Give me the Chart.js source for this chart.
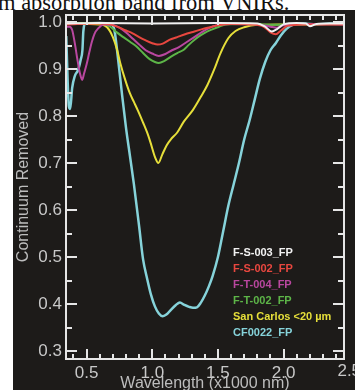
<!DOCTYPE html>
<html>
<head>
<meta charset="utf-8">
<script src="https://cdn.jsdelivr.net/npm/chart.js@4.4.1/dist/chart.umd.min.js"></script>
<style>
  html, body { margin: 0; padding: 0; background: #fff; width: 355px; height: 390px; overflow: hidden; }
  #caption { position: absolute; left: -2px; top: -8px; font: 22.5px/22px "Liberation Serif", serif; color: #111; white-space: nowrap; }
  #panel { position: absolute; left: 13px; top: 10px; width: 342px; height: 380px; background: #1d1b19; }
</style>
</head>
<body>
<div id="caption">m absorption band from VNIRs.</div>
<div id="panel"><canvas id="chart" width="342" height="380"></canvas></div>
<script>
// --- data (wavelength in µm, continuum removed reflectance) ---
const fs003X = [0.345, 0.6, 1.0, 1.5, 1.80, 1.86, 1.91, 1.95, 2.0, 2.1, 2.17, 2.2, 2.25, 2.35, 2.46];
const fs003Y = [0.997, 0.998, 0.997, 0.998, 0.997, 0.99, 0.98, 0.985, 0.995, 0.998, 0.997, 0.991, 0.996, 0.997, 0.997];

const fs002X = [0.345, 0.60, 0.68, 0.75, 0.80, 0.85, 0.90, 0.95, 1.00, 1.04, 1.08, 1.13, 1.19, 1.25, 1.31, 1.38, 1.44, 1.50, 1.60, 1.75, 1.85, 1.90, 1.94, 1.98, 2.03, 2.2, 2.46];
const fs002Y = [0.995, 0.997, 0.995, 0.988, 0.982, 0.976, 0.968, 0.961, 0.955, 0.952, 0.954, 0.962, 0.968, 0.974, 0.979, 0.985, 0.989, 0.993, 0.996, 0.995, 0.99, 0.978, 0.974, 0.982, 0.992, 0.995, 0.995];

const ft004X = [0.345, 0.37, 0.39, 0.41, 0.43, 0.45, 0.466, 0.48, 0.50, 0.52, 0.54, 0.56, 0.59, 0.63, 0.70, 0.75, 0.80, 0.85, 0.90, 0.95, 1.00, 1.05, 1.10, 1.15, 1.20, 1.26, 1.32, 1.38, 1.44, 1.50, 1.60, 1.80, 1.90, 1.95, 2.0, 2.2, 2.46];
const ft004Y = [0.99, 0.99, 0.983, 0.955, 0.92, 0.89, 0.877, 0.89, 0.91, 0.935, 0.958, 0.975, 0.987, 0.995, 0.994, 0.988, 0.978, 0.965, 0.952, 0.94, 0.933, 0.928, 0.932, 0.94, 0.946, 0.957, 0.968, 0.979, 0.988, 0.994, 0.996, 0.995, 0.99, 0.988, 0.993, 0.996, 0.995];

const ft002X = [0.345, 0.55, 0.62, 0.68, 0.73, 0.78, 0.83, 0.88, 0.93, 0.98, 1.02, 1.05, 1.09, 1.14, 1.19, 1.24, 1.28, 1.32, 1.37, 1.42, 1.50, 1.56, 1.7, 2.0, 2.46];
const ft002Y = [0.998, 0.998, 0.997, 0.99, 0.978, 0.968, 0.958, 0.948, 0.934, 0.921, 0.915, 0.913, 0.917, 0.926, 0.934, 0.941, 0.952, 0.962, 0.972, 0.98, 0.989, 0.995, 0.996, 0.994, 0.996];

const sanCarlosX = [0.345, 0.40, 0.50, 0.60, 0.656, 0.70, 0.733, 0.756, 0.794, 0.83, 0.86, 0.89, 0.93, 0.962, 0.985, 1.023, 1.046, 1.076, 1.11, 1.14, 1.19, 1.24, 1.31, 1.37, 1.42, 1.47, 1.52, 1.58, 1.634, 1.70, 1.80, 2.0, 2.46];
const sanCarlosY = [0.996, 0.997, 0.996, 0.995, 0.989, 0.968, 0.94, 0.913, 0.877, 0.848, 0.83, 0.812, 0.786, 0.764, 0.745, 0.711, 0.70, 0.718, 0.738, 0.75, 0.765, 0.788, 0.813, 0.841, 0.866, 0.898, 0.934, 0.966, 0.981, 0.989, 0.994, 0.995, 0.996];

const cf0022X = [0.345, 0.355, 0.365, 0.375, 0.39, 0.41, 0.435, 0.455, 0.468, 0.475, 0.49, 0.60, 0.68, 0.71, 0.74, 0.77, 0.80, 0.83, 0.86, 0.90, 0.93, 0.96, 0.99, 1.02, 1.05, 1.08, 1.11, 1.14, 1.18, 1.21, 1.245, 1.28, 1.31, 1.34, 1.37, 1.40, 1.43, 1.46, 1.50, 1.54, 1.58, 1.62, 1.66, 1.70, 1.74, 1.78, 1.82, 1.86, 1.90, 1.94, 1.98, 2.02, 2.07, 2.15, 2.25, 2.35, 2.46];
const cf0022Y = [0.97, 0.88, 0.82, 0.815, 0.86, 0.885, 0.898, 0.92, 0.94, 0.98, 0.997, 0.998, 0.996, 0.985, 0.92, 0.845, 0.775, 0.715, 0.655, 0.565, 0.495, 0.455, 0.42, 0.395, 0.38, 0.374, 0.378, 0.387, 0.398, 0.403, 0.398, 0.394, 0.392, 0.393, 0.403, 0.418, 0.437, 0.46, 0.50, 0.555, 0.61, 0.655, 0.70, 0.75, 0.79, 0.835, 0.88, 0.915, 0.94, 0.955, 0.972, 0.985, 0.994, 0.997, 0.995, 0.997, 0.996];

const legendLabels = ['F-S-003_FP', 'F-S-002_FP', 'F-T-004_FP', 'F-T-002_FP', 'San Carlos <20 µm', 'CF0022_FP'];
const legendColors = ['#f2f2f2', '#e8473f', '#b9479f', '#5db548', '#e6df3a', '#86d3da'];

const xTickLabels = [0.5, 1.0, 1.5, 2.0];
const yTickLabels = [0.3, 0.4, 0.5, 0.6, 0.7, 0.8, 0.9, 1.0];

const seriesX = [fs003X, fs002X, ft004X, ft002X, sanCarlosX, cf0022X];
const seriesY = [fs003Y, fs002Y, ft004Y, ft002Y, sanCarlosY, cf0022Y];

const FONT = '"Liberation Sans", Arial, sans-serif';
const AXIS_COLOR = '#e6e6e6';
const LABEL_COLOR = '#c8c8c8';

// --- frame with inward ticks on all four sides (IDL style box) ---
const framePlugin = {
  id: 'frame',
  afterDatasetsDraw(chart) {
    const { ctx, chartArea: a, scales: { x, y } } = chart;
    ctx.save();
    ctx.strokeStyle = AXIS_COLOR;
    ctx.lineWidth = 2;
    ctx.strokeRect(a.left, a.top, a.right - a.left, a.bottom - a.top);
    ctx.beginPath();
    for (let i = 4; i <= 24; i++) {
      const v = i / 10;
      const len = (i % 5 === 0) ? 10 : 5;
      const px = Math.round(x.getPixelForValue(v));
      ctx.moveTo(px, a.bottom); ctx.lineTo(px, a.bottom - len);
      ctx.moveTo(px, a.top); ctx.lineTo(px, a.top + len);
    }
    for (let i = 6; i <= 20; i++) {
      const v = i / 20;
      const len = (i % 2 === 0) ? 11 : 6;
      const py = Math.round(y.getPixelForValue(v));
      ctx.moveTo(a.left, py); ctx.lineTo(a.left + len, py);
      ctx.moveTo(a.right, py); ctx.lineTo(a.right - len, py);
    }
    ctx.stroke();
    // the 2.5 label sits just past the right end of the axis
    ctx.fillStyle = LABEL_COLOR;
    ctx.font = '17px ' + FONT;
    ctx.textAlign = 'center';
    ctx.textBaseline = 'top';
    ctx.fillText('2.5', x.getPixelForValue(2.5), a.bottom + 4);
    ctx.restore();
  }
};

// --- coloured text legend inside the plot ---
const textLegend = {
  id: 'textLegend',
  afterDraw(chart) {
    const { ctx, chartArea: a } = chart;
    ctx.save();
    ctx.font = 'bold 11px ' + FONT;
    ctx.textAlign = 'left';
    ctx.textBaseline = 'middle';
    legendLabels.forEach((t, i) => {
      ctx.fillStyle = legendColors[i];
      ctx.fillText(t, 220, 243 + i * 16);
    });
    ctx.restore();
  }
};

new Chart(document.getElementById('chart').getContext('2d'), {
  type: 'line',
  data: {
    datasets: seriesX.map((xs, i) => ({
      label: legendLabels[i],
      data: xs.map((v, j) => ({ x: v, y: seriesY[i][j] })),
      borderColor: legendColors[i],
      borderWidth: i === 5 ? 2.5 : 2,
      fill: false
    }))
  },
  options: {
    responsive: false,
    animation: false,
    devicePixelRatio: 1,
    layout: { padding: { top: 5, right: 11, left: 0, bottom: 0 } },
    plugins: { legend: { display: false }, tooltip: { enabled: false } },
    elements: {
      point: { radius: 0 },
      line: { cubicInterpolationMode: 'monotone' }
    },
    scales: {
      x: {
        type: 'linear',
        min: 0.343,
        max: 2.46,
        afterBuildTicks: s => { s.ticks = xTickLabels.map(v => ({ value: v })); },
        afterFit: s => { s.height = 31; },
        grid: { display: false, drawTicks: false },
        border: { display: false },
        ticks: {
          color: LABEL_COLOR, padding: 4, maxRotation: 0, autoSkip: false,
          font: { family: FONT, size: 17 },
          callback: v => Number(v).toFixed(1)
        },
        title: {
          display: true, text: 'Wavelength (x1000 nm)', color: '#bdbdbd',
          font: { family: FONT, size: 16 }, padding: { top: 0, bottom: -3 }
        }
      },
      y: {
        type: 'linear',
        min: 0.283,
        max: 1.015,
        afterBuildTicks: s => { s.ticks = yTickLabels.map(v => ({ value: v })); },
        afterFit: s => { s.width = 53; },
        grid: { display: false, drawTicks: false },
        border: { display: false },
        ticks: {
          color: LABEL_COLOR, padding: 4, autoSkip: false,
          font: { family: FONT, size: 17, lineHeight: 0.1 },
          callback: v => Number(v).toFixed(1)
        },
        title: {
          display: true, text: 'Continuum Removed', color: '#bdbdbd',
          font: { family: FONT, size: 16 }, padding: { top: 1, bottom: 0 }
        }
      }
    }
  },
  plugins: [framePlugin, textLegend]
});
</script>
</body>
</html>
